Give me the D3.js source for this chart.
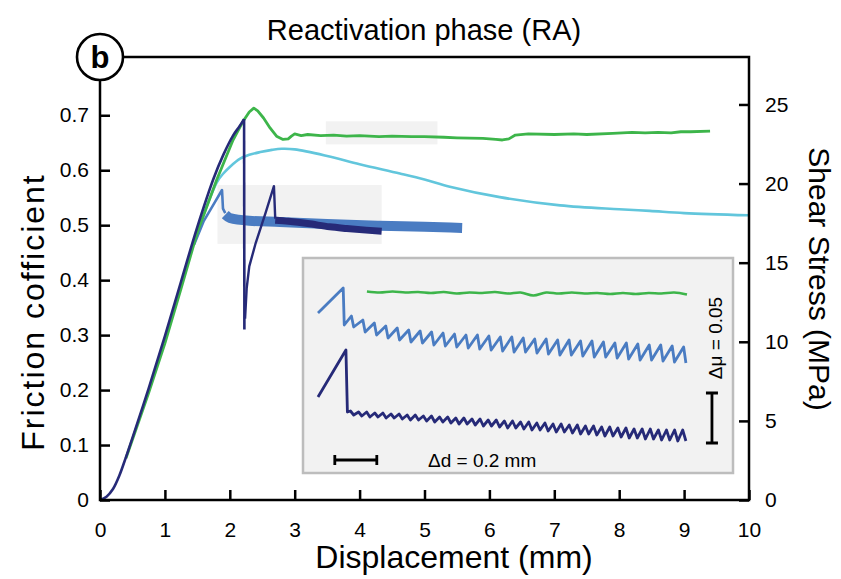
<!DOCTYPE html>
<html>
<head>
<meta charset="utf-8">
<script src="https://cdn.jsdelivr.net/npm/d3@7"></script>
<style>
  body { margin: 0; background: #fff; }
  svg { display: block; font-family: "Liberation Sans", Arial, Helvetica, sans-serif; }
</style>
</head>
<body>
<svg id="chart" width="841" height="579"></svg>
<script>
// main panel: [displacement mm, friction coefficient]
const navyLoad = [[0, 0], [0.1, 0.006], [0.2, 0.02], [0.3, 0.045], [0.4, 0.078], [0.5, 0.113], [0.75, 0.203],
  [1.0, 0.298], [1.25, 0.398], [1.5, 0.497], [1.75, 0.585], [1.9, 0.628], [2.05, 0.663], [2.15, 0.68],
  [2.22, 0.693]]
const navyDrop = [[2.22, 0.693], [2.225, 0.31]]
const navyReload = [[2.235, 0.33], [2.26, 0.385], [2.3, 0.425], [2.4, 0.468], [2.55, 0.522], [2.68, 0.571], [2.7, 0.512]]
const navyBand = [[2.7, 0.509], [2.9, 0.507], [3.2, 0.503], [3.54, 0.497], [3.8, 0.494], [4.1, 0.491], [4.34, 0.489]]

const greenSeries = [[0.4, 0.076], [0.75, 0.195], [1.0, 0.285], [1.25, 0.385], [1.5, 0.487], [1.8, 0.583],
  [1.87, 0.603], [2.05, 0.655], [2.2, 0.688], [2.3, 0.706], [2.37, 0.713], [2.43, 0.708], [2.52, 0.695],
  [2.62, 0.677], [2.72, 0.662], [2.82, 0.656], [2.9, 0.657], [2.95, 0.662], [3.0, 0.666], [3.1, 0.663],
  [3.2, 0.665], [3.4, 0.663], [3.6, 0.664], [3.8, 0.662], [4.0, 0.663], [4.3, 0.661], [4.5, 0.662],
  [4.8, 0.661], [5.0, 0.661], [5.3, 0.66], [5.5, 0.659], [5.9, 0.658], [6.1, 0.656], [6.2, 0.655],
  [6.3, 0.657], [6.4, 0.664], [6.6, 0.666], [7.0, 0.665], [7.3, 0.666], [7.5, 0.665], [7.9, 0.667],
  [8.2, 0.669], [8.4, 0.668], [8.6, 0.669], [8.8, 0.668], [8.95, 0.67], [9.1, 0.67], [9.4, 0.671]]

const cyanSeries = [[1.5, 0.487], [1.8, 0.578], [1.9, 0.594], [2.0, 0.606], [2.16, 0.621],
  [2.3, 0.628], [2.47, 0.633], [2.65, 0.637], [2.8, 0.639], [3.0, 0.638], [3.5, 0.626], [4.0, 0.611],
  [4.62, 0.594], [5.0, 0.583], [5.39, 0.57], [6.16, 0.551], [7.09, 0.536], [8.0, 0.529], [8.47, 0.526],
  [9.0, 0.522], [10.0, 0.518]]

const blueLoad = [[1.45, 0.465], [1.6, 0.508], [1.75, 0.538], [1.88, 0.564], [1.895, 0.53], [1.93, 0.522]]
const blueBand = [[1.93, 0.519], [2.0, 0.513], [2.3, 0.508], [2.77, 0.506], [3.5, 0.502],
  [4.31, 0.499], [5.0, 0.497], [5.58, 0.495]]

// grey windows marking the zoomed parts: [x0, x1, mu0, mu1]
const windows = [[1.81, 4.34, 0.466, 0.573], [3.48, 5.2, 0.647, 0.689]]

const xTicks = [0, 1, 2, 3, 4, 5, 6, 7, 8, 9, 10]
const muTicks = [0, 0.1, 0.2, 0.3, 0.4, 0.5, 0.6, 0.7]
const stressTicks = [0, 5, 10, 15, 20, 25]

// inset: [relative displacement mm, mu]
const blueInsetLoad = [[0, 0.56], [0.12, 0.585], [0.125, 0.548]]
const blueInsetTop = [0.557, 0.553, 0.55, 0.547, 0.545, 0.543, 0.542, 0.541, 0.54, 0.539, 0.538, 0.538,
  0.537, 0.536, 0.536, 0.535, 0.534, 0.534, 0.533, 0.533, 0.532, 0.532, 0.531, 0.53, 0.53, 0.529, 0.528,
  0.528, 0.527, 0.526]
const blueInsetBottom = [0.546, 0.541, 0.538, 0.535, 0.533, 0.531, 0.53, 0.528, 0.527, 0.526, 0.525, 0.524,
  0.523, 0.522, 0.521, 0.521, 0.52, 0.519, 0.518, 0.518, 0.517, 0.516, 0.516, 0.515, 0.514, 0.513, 0.513,
  0.512, 0.511, 0.51]

const navyInsetLoad = [[0, 0.476], [0.133, 0.523], [0.14, 0.461]]
const navyInsetTop = [0.462, 0.461, 0.461, 0.46, 0.46, 0.459, 0.459, 0.458, 0.458, 0.457, 0.457, 0.456,
  0.456, 0.455, 0.455, 0.454, 0.454, 0.453, 0.453, 0.452, 0.452, 0.451, 0.451, 0.45, 0.45, 0.449, 0.449,
  0.448, 0.448, 0.447, 0.447, 0.446, 0.446, 0.445, 0.445, 0.444, 0.444, 0.444, 0.443, 0.443, 0.443, 0.443]
const navyInsetBottom = [0.458, 0.457, 0.456, 0.456, 0.455, 0.455, 0.454, 0.453, 0.453, 0.452, 0.451, 0.451,
  0.45, 0.449, 0.449, 0.448, 0.447, 0.447, 0.446, 0.445, 0.445, 0.444, 0.443, 0.443, 0.442, 0.441, 0.441,
  0.44, 0.439, 0.439, 0.438, 0.437, 0.437, 0.436, 0.435, 0.435, 0.434, 0.434, 0.433, 0.433, 0.432, 0.432]

const greenInset = [0.5815, 0.5805, 0.5815, 0.5805, 0.581, 0.58, 0.581, 0.5795, 0.5805, 0.58, 0.581, 0.5795,
  0.5805, 0.5775, 0.5805, 0.5795, 0.5805, 0.5795, 0.58, 0.579, 0.58, 0.579, 0.58, 0.5795, 0.5805, 0.5785]

const COLORS = {
  navy: '#262a78',
  blue: '#4a7cc2',
  cyan: '#62c6dc',
  green: '#3db54a',
  window: '#f2f2f2'
}

const svg = d3.select('#chart')
const plot = { left: 100, right: 749, top: 57, bottom: 500 }

const x = d3.scaleLinear().domain([0, 10]).range([plot.left, plot.right])
const y = d3.scaleLinear().domain([0, 0.806]).range([plot.bottom, plot.top])
const yStress = d3.scaleLinear().domain([0, 28]).range([plot.bottom, plot.top])

const line = d3.line().x(d => x(d[0])).y(d => y(d[1]))

// grey windows
svg.append('g').selectAll('rect')
  .data(windows)
  .join('rect')
  .attr('x', d => x(d[0]))
  .attr('width', d => x(d[1]) - x(d[0]))
  .attr('y', d => y(d[3]))
  .attr('height', d => y(d[2]) - y(d[3]))
  .attr('fill', COLORS.window)

const plotLine = (data, color, width, curve) => svg.append('path')
  .attr('fill', 'none')
  .attr('stroke', color)
  .attr('stroke-width', width)
  .attr('stroke-linejoin', 'round')
  .attr('d', line.curve(curve || d3.curveLinear)(data))

plotLine(cyanSeries, COLORS.cyan, 2.6, d3.curveCatmullRom.alpha(0.5))
plotLine(blueLoad, COLORS.blue, 2.6)
plotLine(blueBand, COLORS.blue, 10, d3.curveMonotoneX)
plotLine(greenSeries, COLORS.green, 2.8)
plotLine(navyLoad, COLORS.navy, 2.6, d3.curveCatmullRom.alpha(0.5))
plotLine(navyDrop, COLORS.navy, 2.6)
plotLine(navyReload, COLORS.navy, 2.4)
plotLine(navyBand, COLORS.navy, 7, d3.curveMonotoneX)

// axes, ticks point inwards
const styleAxis = g => {
  g.select('.domain').remove()
  g.selectAll('.tick line').attr('stroke', '#000').attr('stroke-width', 2.5)
  g.selectAll('.tick text').attr('font-size', 21).attr('fill', '#000')
    .attr('font-family', '"Liberation Sans", Arial, sans-serif')
}

svg.append('g')
  .attr('transform', `translate(0,${plot.bottom})`)
  .call(d3.axisBottom(x).tickValues(xTicks).tickFormat(d3.format('d'))
    .tickSizeInner(-10).tickSizeOuter(0).tickPadding(22))
  .call(styleAxis)

svg.append('g')
  .attr('transform', `translate(${plot.left},0)`)
  .call(d3.axisLeft(y).tickValues(muTicks).tickFormat(d => d === 0 ? '0' : d3.format('.1f')(d))
    .tickSizeInner(-10).tickSizeOuter(0).tickPadding(11))
  .call(styleAxis)

svg.append('g')
  .attr('transform', `translate(${plot.right},0)`)
  .call(d3.axisRight(yStress).tickValues(stressTicks).tickFormat(d3.format('d'))
    .tickSizeInner(-10).tickSizeOuter(0).tickPadding(16))
  .call(styleAxis)

svg.append('rect')
  .attr('x', plot.left).attr('y', plot.top)
  .attr('width', plot.right - plot.left).attr('height', plot.bottom - plot.top)
  .attr('fill', 'none').attr('stroke', '#000').attr('stroke-width', 2.5)

// titles
svg.append('text')
  .attr('x', 424).attr('y', 40)
  .attr('text-anchor', 'middle').attr('font-size', 29)
  .text('Reactivation phase (RA)')

svg.append('text')
  .attr('x', 454).attr('y', 568)
  .attr('text-anchor', 'middle').attr('font-size', 32)
  .text('Displacement (mm)')

svg.append('text')
  .attr('transform', 'translate(44,312) rotate(-90)')
  .attr('text-anchor', 'middle').attr('font-size', 32).attr('letter-spacing', 2)
  .text('Friction cofficient')

svg.append('text')
  .attr('transform', 'translate(809,279) rotate(90)')
  .attr('text-anchor', 'middle').attr('font-size', 30)
  .text('Shear Stress (MPa)')

// inset
const inset = svg.append('g')
inset.append('rect')
  .attr('x', 303).attr('y', 258).attr('width', 430).attr('height', 215)
  .attr('fill', '#f2f2f2').attr('stroke', '#bdbdbd').attr('stroke-width', 2.5)

const ix = d3.scaleLinear().domain([0, 1]).range([318, 528])
const iy = d3.scaleLinear().domain([0.40, 0.615]).range([473, 258])
const iline = d3.line().x(d => ix(d[0])).y(d => iy(d[1]))

const sawtooth = (load, tops, bottoms, d0, d1, dropFrac) => {
  const pos = d3.scaleLinear().domain([0, tops.length - 1]).range([d0, d1])
  const step = (d1 - d0) / (tops.length - 1)
  const pts = load.slice()
  tops.forEach((t, i) => {
    pts.push([pos(i) - step * dropFrac, t])
    pts.push([pos(i), bottoms[i]])
  })
  return pts
}

inset.append('path')
  .attr('d', iline(sawtooth(blueInsetLoad, blueInsetTop, blueInsetBottom, 0.17, 1.752, 0.2)))
  .attr('fill', 'none').attr('stroke', COLORS.blue).attr('stroke-width', 2.8).attr('stroke-linejoin', 'round')

inset.append('path')
  .attr('d', iline(sawtooth(navyInsetLoad, navyInsetTop, navyInsetBottom, 0.17, 1.752, 0.4)))
  .attr('fill', 'none').attr('stroke', COLORS.navy).attr('stroke-width', 2.8).attr('stroke-linejoin', 'round')

const gpos = d3.scaleLinear().domain([0, greenInset.length - 1]).range([0.233, 1.757])
inset.append('path')
  .attr('d', iline.curve(d3.curveCatmullRom)(greenInset.map((v, i) => [gpos(i), v])))
  .attr('fill', 'none').attr('stroke', COLORS.green).attr('stroke-width', 2.6)

// scale bars
const barD = [0.08, 0.28], barDy = 0.413
const barMu = [0.43, 0.48], barMuX = 1.876
inset.append('path')
  .attr('d', `M${ix(barD[0])},${iy(barDy)}H${ix(barD[1])}M${ix(barD[0])},${iy(barDy) - 5}v10M${ix(barD[1])},${iy(barDy) - 5}v10`)
  .attr('stroke', '#000').attr('stroke-width', 2.8).attr('fill', 'none')
inset.append('path')
  .attr('d', `M${ix(barMuX)},${iy(barMu[0])}V${iy(barMu[1])}M${ix(barMuX) - 6},${iy(barMu[0])}h12M${ix(barMuX) - 6},${iy(barMu[1])}h12`)
  .attr('stroke', '#000').attr('stroke-width', 2.8).attr('fill', 'none')

inset.append('text')
  .attr('x', 428).attr('y', 467).attr('font-size', 19)
  .text('Δd = 0.2 mm')
inset.append('text')
  .attr('transform', 'translate(722,338) rotate(-90)')
  .attr('text-anchor', 'middle').attr('font-size', 19)
  .text('Δμ = 0.05')

// panel letter
svg.append('circle')
  .attr('cx', plot.left).attr('cy', plot.top).attr('r', 23)
  .attr('fill', '#fff').attr('stroke', '#000').attr('stroke-width', 2.6)
svg.append('text')
  .attr('x', plot.left).attr('y', plot.top + 11)
  .attr('text-anchor', 'middle').attr('font-size', 31).attr('font-weight', 'bold')
  .text('b')
</script>
</body>
</html>
